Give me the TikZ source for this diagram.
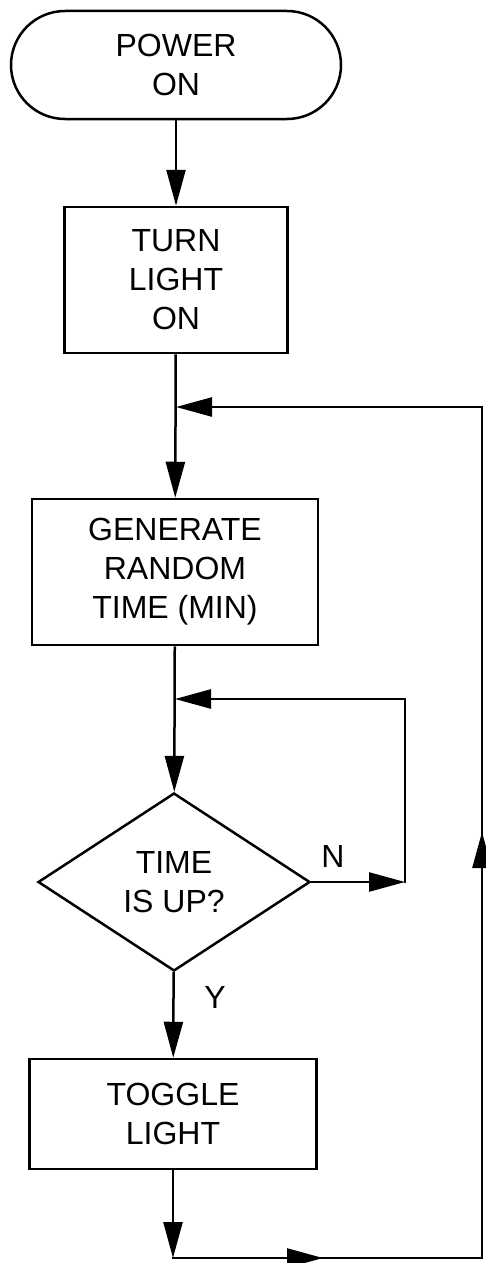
\documentclass[tikz,border=0pt]{standalone}
\usepackage{fontspec}
\setmainfont{Liberation Sans}
\usetikzlibrary{shapes.geometric,arrows.meta}
\begin{document}
\begin{tikzpicture}[x=1pt,y=-1pt,
  every node/.style={font=\fontsize{32}{39}\selectfont, align=center, inner sep=0pt},
  ln/.style={line width=2.5pt},
  box/.style={draw, ln, rectangle},
  term/.style={draw, ln, rectangle, rounded corners=54pt, minimum width=330pt, minimum height=108pt},
  dia/.style={draw, ln, diamond, minimum width=272pt, minimum height=178pt},
  arr/.style={ln, -{Triangle[length=36pt,width=19pt]}},
  con/.style={ln, line cap=rect}
]
\useasboundingbox (0,0) rectangle (485,1263);

\node[term] (power) at (176,65) {POWER\\ON};
\node[box, minimum width=223pt, minimum height=146pt] (turn) at (176,280) {TURN\\LIGHT\\ON};
\node[box, minimum width=286pt, minimum height=146pt] (gen) at (175,572) {GENERATE\\RANDOM\\TIME (MIN)};
\node[dia] (dec) at (174,882) {TIME\\IS UP?};
\node[box, minimum width=287pt, minimum height=110pt] (tog) at (173,1114) {TOGGLE\\LIGHT};
\node (nlab) at (333,856) {N};
\node (ylab) at (215,997) {Y};

\coordinate (j1) at (176,407);
\coordinate (j1h) at (300,407);
\coordinate (r1) at (482,407);
\coordinate (rm) at (482,832);
\coordinate (br) at (482,1258);
\coordinate (bl) at (173,1258);
\coordinate (bm) at (323,1258);
\coordinate (j2) at (175,699);
\coordinate (j2h) at (300,699);
\coordinate (n2) at (405,699);
\coordinate (n1) at (405,882);

\draw[arr] (power) -- (turn);
\draw[arr] (turn) -- (gen);
\draw[arr] (gen) -- (dec);
\draw[arr] (dec) -- (tog);
\draw[arr] (tog) -- (bl);

\draw[con] (bl) -- (br) -- (r1) -- (j1h);
\draw[arr] (bl) -- (bm);
\draw[arr] (br) -- (rm);
\draw[arr] (r1) -- (j1);

\draw[arr] (dec.east) -- (n1);
\draw[con] (n1) -- (n2) -- (j2h);
\draw[arr] (n2) -- (j2);
\end{tikzpicture}
\end{document}
